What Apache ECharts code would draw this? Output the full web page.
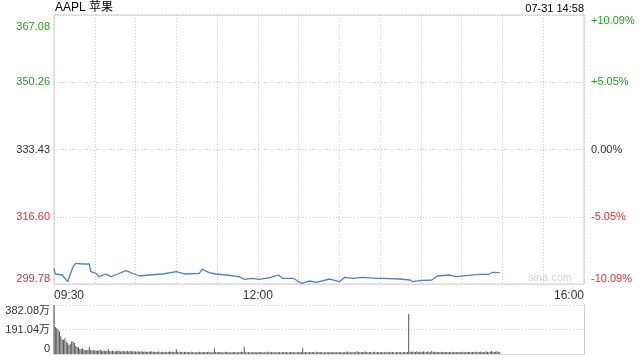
<!DOCTYPE html>
<html><head><meta charset="utf-8">
<script src="https://cdn.jsdelivr.net/npm/echarts@6/dist/echarts.min.js"></script>
<style>html,body{margin:0;padding:0;background:#fff}#c{width:640px;height:360px}</style>
</head><body><div id="c"></div>
<script>
const title = 'AAPL 苹果';
const stamp = '07-31 14:58';
const priceTicks = [299.78, 316.60, 333.43, 350.26, 367.08];
const pctTicks = [-10.09, -5.05, 0, 5.05, 10.09];
const pctLabels = ['-10.09%', '-5.05%', '0.00%', '+5.05%', '+10.09%'];
const volTicks = [0, 191.04, 382.08];
const xLabelTimes = ['09:30', '12:00', '16:00'];
const gridTimes = ['09:30','10:00','10:30','11:00','11:30','12:00','12:30','13:00','13:30','14:00','14:30','15:00','15:30','16:00'];
const priceTimes = ['09:30','09:31','09:36','09:40','09:44','09:46','09:47','09:51','09:56','09:57','10:01','10:03','10:08','10:12','10:17','10:23','10:29','10:33','10:40','10:50','11:00','11:07','11:17','11:19','11:24','11:29','11:37','11:46','11:50','11:56','12:01','12:09','12:15','12:18','12:26','12:32','12:38','12:43','12:53','13:00','13:04','13:10','13:17','13:27','13:32','13:44','13:52','13:54','13:59','14:08','14:12','14:21','14:26','14:33','14:43','14:50','14:53','14:57','14:58'];
const prices = [303.71,302.28,302.03,300.36,304.11,304.96,305.36,304.78,304.78,302.86,302.46,301.61,302.28,301.61,302.28,303.11,302.28,301.78,302.03,302.28,302.86,302.28,302.46,303.53,302.61,302.28,302.03,301.61,300.96,301.21,300.96,301.36,302.03,301.21,301.21,299.96,300.53,300.21,301.03,300.36,301.46,301.21,301.46,301.21,301.21,301.03,300.78,300.36,300.61,300.78,301.78,302.03,301.61,301.86,302.21,302.21,302.71,302.61,302.61];
// volume per minute from 09:30 (unit: 万)
const volumes = [
382.08,210,200,190,175,140,115,110,122,97,85,70,80,97,97,85,62,55,52,39,39,44,33,31,30,34,52,31,30,28,
30,27,25,29,33,26,24,28,22,25,38,24,22,26,21,20,24,27,23,20,22,25,19,21,23,20,26,22,19,21,
20,18,22,19,17,21,16,20,18,15,19,17,22,16,18,15,17,20,14,16,18,15,17,14,16,19,15,17,14,16,
38,16,14,17,15,13,16,18,14,15,13,17,14,16,12,15,14,17,13,15,14,16,13,15,17,14,12,15,45,16,
14,13,16,15,12,14,17,13,15,14,12,16,13,15,14,12,16,13,18,15,57,14,13,15,12,16,14,13,15,12,
14,16,13,15,12,14,13,17,12,15,14,13,16,12,14,15,13,12,16,14,13,15,12,14,16,13,15,12,14,13,
15,14,16,45,13,15,14,12,16,13,15,14,12,17,13,15,14,16,12,14,13,15,12,16,14,13,15,12,14,16,
13,15,14,12,16,13,20,14,15,12,16,14,13,22,15,14,16,13,15,20,14,13,16,15,12,14,18,13,15,14,
16,14,13,15,12,17,14,15,13,16,14,12,15,13,16,14,12,15,13,14,16,312,18,15,20,14,16,22,15,14,
18,15,22,14,16,20,15,13,24,16,14,18,15,13,16,14,17,15,13,16,14,15,13,17,14,16,15,13,16,14,
15,17,14,16,13,15,18,14,16,15,13,17,14,16,20,15,14,16,22,15,14,17,24,16,15,18,22,16,14
];

function toMin(t){const p=t.split(':');return (+p[0])*60+(+p[1])-(9*60+30);}
const GREEN='#1ca51c', RED='#f02b2b', DARK='#333';
const FONT='"Liberation Sans", Arial, "Noto Sans CJK SC", sans-serif';
const chart = echarts.init(document.getElementById('c'), null, {renderer:'canvas'});
const xMin = toMin('09:30'), xMax = toMin('16:00');
const mid = priceTicks[2];
function priceColor(v){return Math.abs(v-mid)<0.01?DARK:(v>mid?GREEN:RED);}
chart.setOption({
  animation:false,
  textStyle:{fontFamily:FONT},
  title:[
    {text:title,left:55,top:2,padding:0,textStyle:{fontSize:12,fontWeight:'normal',color:'#000',fontFamily:FONT}},
    {text:stamp,right:56,top:3,padding:0,textStyle:{fontSize:11,fontWeight:'normal',color:'#000',fontFamily:FONT}}
  ],
  graphic:[{type:'text',right:68,top:272,style:{text:'sina.com',fill:'#d0d0d0',font:'11px '+FONT}}],
  grid:[
    {left:54,right:56,top:15,height:269,show:true,borderColor:'#ccc',borderWidth:1},
    {left:54,right:56,top:305,height:49,show:false}
  ],
  xAxis:[
    {type:'value',gridIndex:0,min:xMin,max:xMax,
     axisLine:{show:false},axisTick:{show:false,customValues:gridTimes.map(toMin)},
     splitLine:{show:true,lineStyle:{color:'#ccc',type:[1,2],width:1}},
     axisLabel:{customValues:xLabelTimes.map(toMin),formatter:v=>xLabelTimes[xLabelTimes.map(toMin).indexOf(v)]||'',
       color:DARK,fontSize:12,margin:6,alignMinLabel:'left',alignMaxLabel:'right',fontFamily:FONT}},
    {type:'value',gridIndex:1,min:xMin,max:xMax,axisLine:{show:true,lineStyle:{color:'#ddd'}},
     axisTick:{show:false},axisLabel:{show:false},splitLine:{show:false}}
  ],
  yAxis:[
    {type:'value',gridIndex:0,min:priceTicks[0],max:priceTicks[4],
     axisLine:{show:false},axisTick:{show:false,customValues:priceTicks},
     splitLine:{show:true,lineStyle:{color:'#ccc',type:[1,2]}},
     axisLabel:{customValues:priceTicks,
       formatter:v=>{const s=v.toFixed(2);return v===priceTicks[4]?'{t|'+s+'}':s;},
       rich:{t:{padding:[6,0,0,0],fontSize:11,color:GREEN,fontFamily:FONT}},
       fontSize:11,margin:4,
       color:v=>priceColor(+v),
       verticalAlignMinLabel:'bottom',verticalAlignMaxLabel:'top',fontFamily:FONT}},
    {type:'value',gridIndex:0,position:'right',min:pctTicks[0],max:pctTicks[4],
     axisLine:{show:false},axisTick:{show:false},splitLine:{show:false},
     axisLabel:{customValues:pctTicks,formatter:v=>pctLabels[pctTicks.indexOf(v)]||'',fontSize:11,margin:7,
       color:v=>{v=+v;return Math.abs(v)<0.001?DARK:(v>0?GREEN:RED);},
       verticalAlignMinLabel:'bottom',verticalAlignMaxLabel:'top',fontFamily:FONT}},
    {type:'value',gridIndex:1,min:volTicks[0],max:volTicks[2],
     axisLine:{show:true,lineStyle:{color:'#ccc'}},axisTick:{show:false,customValues:volTicks},
     splitLine:{show:true,lineStyle:{color:'#ccc',type:[1,2]}},
     axisLabel:{customValues:volTicks,formatter:v=>v===0?'0':v.toFixed(2)+'万',fontSize:11,margin:4,color:DARK,
       verticalAlignMinLabel:'bottom',verticalAlignMaxLabel:'top',fontFamily:FONT}},
    {type:'value',gridIndex:1,position:'right',min:volTicks[0],max:volTicks[2],
     axisLine:{show:true,lineStyle:{color:'#ccc'}},axisTick:{show:false},axisLabel:{show:false},splitLine:{show:false}}
  ],
  series:[
    {type:'line',xAxisIndex:0,yAxisIndex:0,symbol:'none',
     data:priceTimes.map((t,i)=>[toMin(t),prices[i]]),
     lineStyle:{color:'#4a7fd8',width:1.3}},
    {type:'bar',xAxisIndex:1,yAxisIndex:2,barWidth:1,
     data:volumes.map((v,i)=>[i,v]),itemStyle:{color:'#555'}}
  ]
});
</script></body></html>
